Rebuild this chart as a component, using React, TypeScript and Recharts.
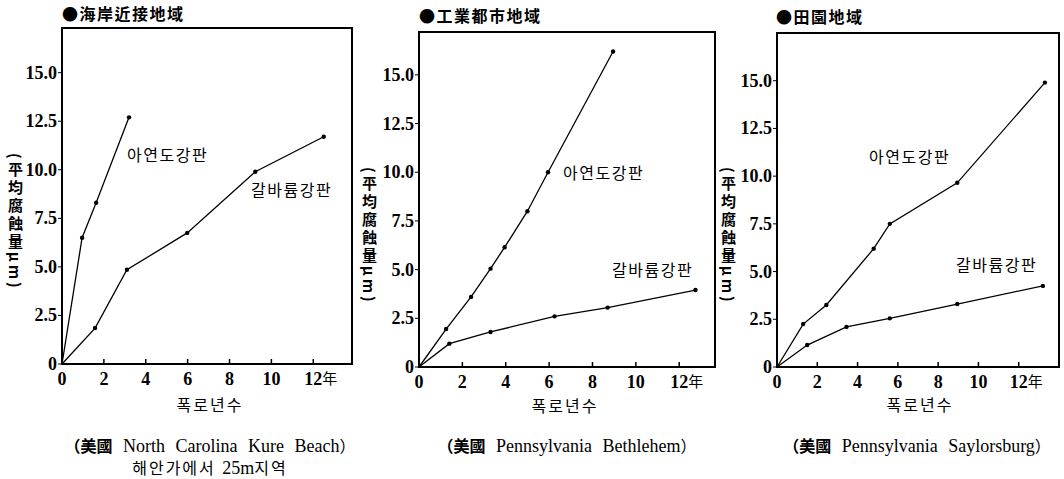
// modules
import { LineChart, Line, XAxis, YAxis, ReferenceArea } from "recharts";

// tick labels
const xTicks = [0, 2, 4, 6, 8, 10, 12];
const yTicks = [0, 2.5, 5, 7.5, 10, 12.5, 15];

// 海岸近接地域 (Kure Beach)
const kureZincYears = [0, 0.96, 1.63, 3.2];
const kureZincLoss = [0, 6.5, 8.3, 12.7];
const kureGalvYears = [0, 1.58, 3.1, 5.98, 9.23, 12.5];
const kureGalvLoss = [0, 1.85, 4.85, 6.75, 9.9, 11.7];

// 工業都市地域 (Bethlehem)
const bethZincYears = [0, 1.25, 2.4, 3.3, 3.95, 5.0, 5.95, 8.95];
const bethZincLoss = [0, 1.95, 3.6, 5.05, 6.15, 8.0, 10.0, 16.2];
const bethGalvYears = [0, 1.4, 3.3, 6.25, 8.7, 12.75];
const bethGalvLoss = [0, 1.2, 1.8, 2.6, 3.05, 3.95];

// 田園地域 (Saylorsburg)
const saylZincYears = [0, 1.3, 2.45, 4.8, 5.6, 8.95, 13.3];
const saylZincLoss = [0, 2.25, 3.25, 6.2, 7.5, 9.65, 14.9];
const saylGalvYears = [0, 1.5, 3.45, 5.6, 8.95, 13.2];
const saylGalvLoss = [0, 1.15, 2.1, 2.55, 3.3, 4.25];

const zip = (xs: number[], ys: number[]) => xs.map((x, i) => ({ x, y: ys[i] }));

const W = 1064;
const H = 479;
const SERIF = "Liberation Serif";
const KR = "Noto Sans CJK KR";

type PanelProps = {
  left: number;
  width: number;
  plotLeft: number;
  plotRight: number;
  plotTop: number;
  plotBottom: number;
  xMax: number;
  yMax: number;
  zinc: { x: number; y: number }[];
  galv: { x: number; y: number }[];
};

const tickText = { fontFamily: SERIF, fontSize: 18, fontWeight: 700, fill: "#000" };

const XTick = (props: any) => {
  const { x, y, payload } = props;
  return (
    <g>
      <line x1={x} y1={y} x2={x} y2={y - 5} stroke="#000" strokeWidth={1.5} />
      <text x={x} y={y + 21} textAnchor="middle" style={tickText}>
        {payload.value}
      </text>
      {payload.value === 12 && (
        <text x={x + 9} y={y + 20} style={{ fontFamily: KR, fontSize: 15, fill: "#000" }}>年</text>
      )}
    </g>
  );
};

const YTick = (props: any) => {
  const { x, y, payload } = props;
  const v: number = payload.value;
  return (
    <text x={x} y={y + 6} textAnchor="end" style={tickText}>
      {v === 0 ? "0" : v.toFixed(1)}
    </text>
  );
};

const dotRenderer = (props: any) => {
  const { cx, cy, index } = props;
  if (index === 0) return <g key={`d${index}`} />;
  return <circle key={`d${index}`} cx={cx} cy={cy} r={2.2} fill="#000" />;
};

function Panel(p: PanelProps) {
  const yAxisWidth = 40;
  const xAxisHeight = 30;
  return (
    <div style={{ position: "absolute", left: p.left, top: 0, fontFamily: SERIF }}>
      <LineChart
        width={p.width}
        height={H}
        margin={{
          left: p.plotLeft - p.left - yAxisWidth,
          right: p.left + p.width - p.plotRight,
          top: p.plotTop,
          bottom: H - p.plotBottom - xAxisHeight,
        }}
      >
        <XAxis
          dataKey="x"
          type="number"
          domain={[0, p.xMax]}
          ticks={xTicks}
          height={xAxisHeight}
          tickSize={0}
          tickMargin={0}
          tickLine={false}
          tick={(props: any) => <XTick {...props} />}
          axisLine={{ stroke: "#000", strokeWidth: 2 }}
          allowDuplicatedCategory={false}
        />
        <YAxis
          type="number"
          domain={[0, p.yMax]}
          ticks={yTicks}
          width={yAxisWidth}
          tickSize={4}
          tickMargin={1}
          tickLine={{ stroke: "#000" }}
          axisLine={{ stroke: "#000", strokeWidth: 2 }}
          tick={(props: any) => <YTick {...props} />}
        />
        <ReferenceArea x1={0} x2={p.xMax} y1={0} y2={p.yMax} fill="none" stroke="#000" strokeWidth={2} />
        <Line
          data={p.zinc}
          dataKey="y"
          type="linear"
          stroke="#000"
          strokeWidth={1.3}
          dot={dotRenderer}
          isAnimationActive={false}
        />
        <Line
          data={p.galv}
          dataKey="y"
          type="linear"
          stroke="#000"
          strokeWidth={1.3}
          dot={dotRenderer}
          isAnimationActive={false}
        />
      </LineChart>
    </div>
  );
}

const abs = (left: number, top: number, extra: React.CSSProperties = {}): React.CSSProperties => ({
  position: "absolute",
  left,
  top,
  whiteSpace: "nowrap",
  color: "#000",
  lineHeight: 1,
  ...extra,
});

const titleStyle = { fontFamily: KR, fontWeight: 700, fontSize: 16, letterSpacing: 1.5 };
const seriesStyle = { fontFamily: KR, fontSize: 16, letterSpacing: 1.5 };
const yLabelStyle: React.CSSProperties = {
  fontFamily: KR,
  fontWeight: 700,
  fontSize: 15,
  letterSpacing: 3,
  writingMode: "vertical-rl",
};
const xLabelStyle = { fontFamily: KR, fontSize: 16, letterSpacing: 2, transform: "translateX(-50%)" };
const captionStyle = { fontFamily: SERIF, fontSize: 18, wordSpacing: 6, transform: "translateX(-50%)" };

export default function App() {
  return (
    <div style={{ position: "absolute", left: 0, top: 0, width: W, height: H, background: "#fff", overflow: "hidden", fontFamily: SERIF }}>
      <Panel
        left={0} width={360} plotLeft={62} plotRight={352} plotTop={28} plotBottom={364}
        xMax={13.85} yMax={17.3}
        zinc={zip(kureZincYears, kureZincLoss)} galv={zip(kureGalvYears, kureGalvLoss)}
      />
      <Panel
        left={360} width={360} plotLeft={419} plotRight={715} plotTop={32} plotBottom={367}
        xMax={13.65} yMax={17.2}
        zinc={zip(bethZincYears, bethZincLoss)} galv={zip(bethGalvYears, bethGalvLoss)}
      />
      <Panel
        left={720} width={344} plotLeft={777} plotRight={1059} plotTop={33} plotBottom={367}
        xMax={14.0} yMax={17.5}
        zinc={zip(saylZincYears, saylZincLoss)} galv={zip(saylGalvYears, saylGalvLoss)}
      />

      {/* panel titles */}
      <div style={abs(62, 5, titleStyle)}>●海岸近接地域</div>
      <div style={abs(419, 7, titleStyle)}>●工業都市地域</div>
      <div style={abs(776, 8, titleStyle)}>●田園地域</div>

      {/* series labels */}
      <div style={abs(127, 146, seriesStyle)}>아연도강판</div>
      <div style={abs(251, 181, seriesStyle)}>갈바륨강판</div>
      <div style={abs(563, 164, seriesStyle)}>아연도강판</div>
      <div style={abs(612, 261, seriesStyle)}>갈바륨강판</div>
      <div style={abs(869, 148, seriesStyle)}>아연도강판</div>
      <div style={abs(956, 256, seriesStyle)}>갈바륨강판</div>

      {/* y axis labels */}
      <div style={abs(8, 153, yLabelStyle)}>(平均腐蝕量μm)</div>
      <div style={abs(362, 167, yLabelStyle)}>(平均腐蝕量μm)</div>
      <div style={abs(721, 167, yLabelStyle)}>(平均腐蝕量μm)</div>

      {/* x axis labels */}
      <div style={abs(210, 396, xLabelStyle)}>폭로년수</div>
      <div style={abs(565, 397, xLabelStyle)}>폭로년수</div>
      <div style={abs(920, 396, xLabelStyle)}>폭로년수</div>

      {/* captions */}
      <div style={abs(210, 437, captionStyle)}>
        <span style={{ fontFamily: KR, fontWeight: 700, fontSize: 16 }}>（美國</span> North Carolina Kure Beach<span style={{ fontFamily: KR, fontSize: 16 }}>）</span>
      </div>
      <div style={abs(210, 459, { ...captionStyle, wordSpacing: 2 })}>
        <span style={{ fontFamily: KR, fontSize: 16, letterSpacing: 2 }}>해안가에서</span> 25m<span style={{ fontFamily: KR, fontSize: 16, letterSpacing: 2 }}>지역</span>
      </div>
      <div style={abs(567, 437, captionStyle)}>
        <span style={{ fontFamily: KR, fontWeight: 700, fontSize: 16 }}>（美國</span> Pennsylvania Bethlehem<span style={{ fontFamily: KR, fontSize: 16 }}>）</span>
      </div>
      <div style={abs(917, 437, captionStyle)}>
        <span style={{ fontFamily: KR, fontWeight: 700, fontSize: 16 }}>（美國</span> Pennsylvania Saylorsburg<span style={{ fontFamily: KR, fontSize: 16 }}>）</span>
      </div>
    </div>
  );
}
